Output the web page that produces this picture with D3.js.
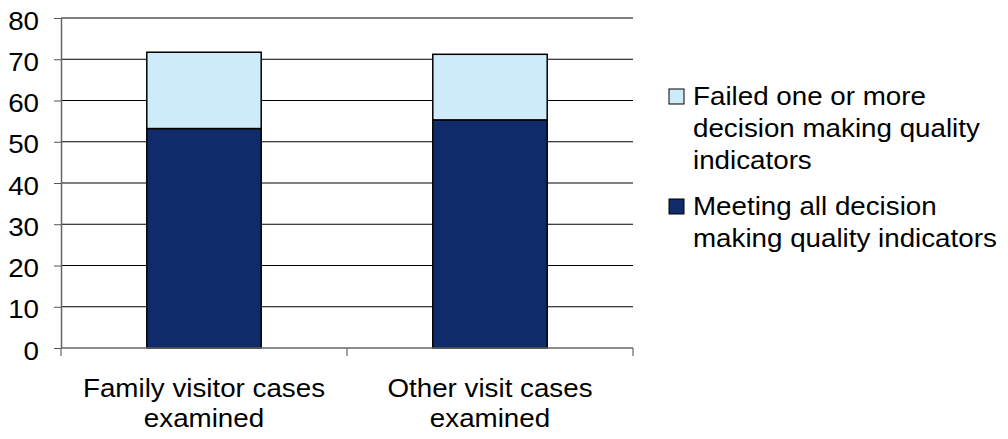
<!DOCTYPE html>
<html>
<head>
<meta charset="utf-8">
<script src="https://cdn.jsdelivr.net/npm/d3@7"></script>
<style>
  body { margin: 0; background: #fff; }
  svg { display: block; }
</style>
</head>
<body>
<svg class="chart" width="1008" height="439"></svg>
<script>
// data
var categories = [["Family visitor cases", "examined"], ["Other visit cases", "examined"]];
var meeting = [53.2, 55.3];
var failed = [18.5, 15.9];
var yTicks = [0, 10, 20, 30, 40, 50, 60, 70, 80];
var seriesNames = [
    ["Failed one or more", "decision making quality", "indicators"],
    ["Meeting all decision", "making quality indicators"]
];

var fontSize = 25, stretch = 1.11;
var font = "'Liberation Sans', Arial, sans-serif";

var svg = d3.select(".chart");

// plot area (note: "top" is reserved on window)
var plotLeft = 61, plotRight = 633, plotTop = 18, plotBottom = 348;

var catKeys = categories.map(d => d.join(" "));
var x = d3.scaleBand()
    .domain(catKeys)
    .range([plotLeft, plotRight])
    .paddingInner(0.6)
    .paddingOuter(0.3);

var y = d3.scaleLinear()
    .domain([0, 80])
    .range([plotBottom, plotTop]);

// grid lines
svg.selectAll(".grid")
    .data(yTicks.filter(d => d > 0))
    .enter().append("line")
    .attr("class", "grid")
    .attr("x1", plotLeft)
    .attr("x2", plotRight)
    .attr("y1", d => y(d))
    .attr("y2", d => y(d))
    .attr("stroke", "#000")
    .attr("stroke-width", 1);

// stacked bars
var rows = catKeys.map((k, i) => ({ key: k, meeting: meeting[i], failed: failed[i] }));
var stacked = d3.stack().keys(["meeting", "failed"])(rows);
var colors = { meeting: "#0F2B69", failed: "#CEEBF9" };

svg.append("g")
    .selectAll("g")
    .data(stacked)
    .join("g")
    .attr("fill", d => colors[d.key])
    .selectAll("rect")
    .data(d => d)
    .join("rect")
    .attr("x", d => x(d.data.key))
    .attr("y", d => y(d[1]))
    .attr("width", x.bandwidth())
    .attr("height", d => y(d[0]) - y(d[1]))
    .attr("stroke", "#000")
    .attr("stroke-width", 1.5);

// y axis
var yAxis = svg.append("g")
    .attr("transform", `translate(${plotLeft}, 0)`)
    .call(d3.axisLeft(y).tickValues(yTicks).tickSize(7).tickSizeOuter(0));
yAxis.select(".domain").attr("stroke", "#666").attr("stroke-width", 1.5);
yAxis.selectAll(".tick line").attr("stroke", "#555").attr("stroke-width", 1);
yAxis.selectAll(".tick text")
    .attr("font-family", font)
    .attr("font-size", fontSize + "px")
    .attr("fill", "#000")
    .attr("x", null)
    .attr("dy", null)
    .attr("transform", `translate(-22, 11) scale(${stretch},1)`);

// x axis
var xTickPos = [plotLeft, plotLeft + x.step(), plotRight];
svg.append("line")
    .attr("x1", plotLeft).attr("x2", plotRight)
    .attr("y1", plotBottom).attr("y2", plotBottom)
    .attr("stroke", "#666").attr("stroke-width", 1.5);
svg.selectAll(".xtick")
    .data(xTickPos)
    .enter().append("line")
    .attr("class", "xtick")
    .attr("x1", d => d).attr("x2", d => d)
    .attr("y1", plotBottom).attr("y2", plotBottom + 8)
    .attr("stroke", "#666").attr("stroke-width", 1.2);

categories.forEach(function (lines, i) {
    var cx = x(catKeys[i]) + x.bandwidth() / 2;
    lines.forEach(function (t, j) {
        svg.append("text")
            .attr("transform", `translate(${cx}, ${397 + j * 30}) scale(${stretch},1)`)
            .attr("text-anchor", "middle")
            .attr("font-family", font)
            .attr("font-size", fontSize + "px")
            .attr("fill", "#000")
            .text(t);
    });
});

// legend
var legendKeys = ["failed", "meeting"];
var legendY = [105, 215];
legendKeys.forEach(function (k, i) {
    svg.append("rect")
        .attr("x", 669)
        .attr("y", legendY[i] - 16)
        .attr("width", 15)
        .attr("height", 15)
        .attr("fill", colors[k])
        .attr("stroke", "#000")
        .attr("stroke-width", 1);
    seriesNames[i].forEach(function (t, j) {
        svg.append("text")
            .attr("transform", `translate(693, ${legendY[i] + j * 32}) scale(${stretch},1)`)
            .attr("font-family", font)
            .attr("font-size", fontSize + "px")
            .attr("fill", "#000")
            .text(t);
    });
});
</script>
</body>
</html>
